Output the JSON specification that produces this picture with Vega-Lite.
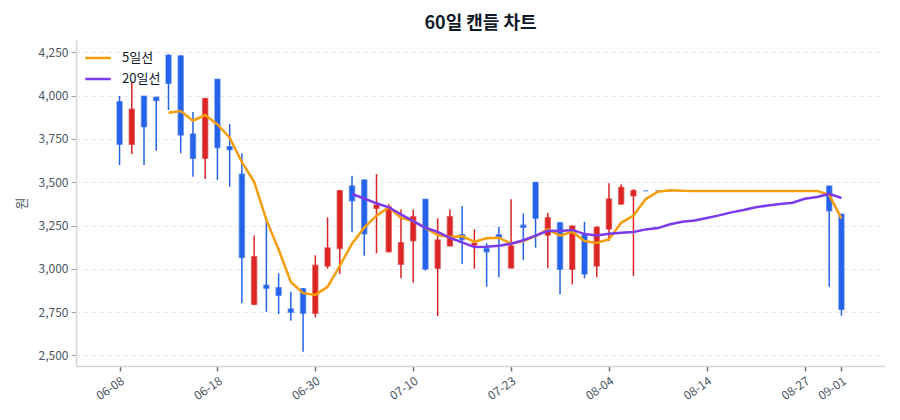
{
  "$schema": "https://vega.github.io/schema/vega-lite/v6.json",
  "width": 809,
  "height": 326,
  "autosize": {"type": "none"},
  "padding": {"left": 76, "top": 40, "right": 15, "bottom": 54},
  "background": "white",
  "title": {
    "text": "60일 캔들 차트",
    "fontSize": 18,
    "fontWeight": "bold",
    "color": "#111827",
    "offset": 7
  },
  "config": {
    "font": "Noto Sans CJK KR",
    "view": {"stroke": null},
    "axis": {
      "labelFont": "Noto Sans CJK KR",
      "titleFont": "Noto Sans CJK KR",
      "labelFontSize": 12,
      "labelColor": "#4b5563",
      "titleColor": "#4b5563",
      "titleFontSize": 13,
      "titleFontWeight": "normal",
      "domainColor": "#d1d5db",
      "domainWidth": 1.5,
      "tickColor": "#6b7280",
      "tickSize": 5
    }
  },
  "data": {
    "values": [
      {"i": 0, "date": "06-08", "open": 3965, "high": 3998, "low": 3599, "close": 3719},
      {"i": 1, "date": "06-09", "open": 3719, "high": 4080, "low": 3663, "close": 3921},
      {"i": 2, "date": "06-10", "open": 3996, "high": 3998, "low": 3600, "close": 3820},
      {"i": 3, "date": "06-11", "open": 3990, "high": 3992, "low": 3682, "close": 3972},
      {"i": 4, "date": "06-12", "open": 4233, "high": 4238, "low": 3917, "close": 4071},
      {"i": 5, "date": "06-15", "open": 4229, "high": 4235, "low": 3667, "close": 3773},
      {"i": 6, "date": "06-16", "open": 3778, "high": 3905, "low": 3532, "close": 3638},
      {"i": 7, "date": "06-17", "open": 3638, "high": 3986, "low": 3518, "close": 3984},
      {"i": 8, "date": "06-18", "open": 4094, "high": 4096, "low": 3513, "close": 3701},
      {"i": 9, "date": "06-19", "open": 3705, "high": 3836, "low": 3474, "close": 3688},
      {"i": 10, "date": "06-22", "open": 3546, "high": 3667, "low": 2801, "close": 3066},
      {"i": 11, "date": "06-23", "open": 2795, "high": 3193, "low": 2790, "close": 3070},
      {"i": 12, "date": "06-24", "open": 2905, "high": 3297, "low": 2752, "close": 2888},
      {"i": 13, "date": "06-25", "open": 2891, "high": 2974, "low": 2739, "close": 2847},
      {"i": 14, "date": "06-26", "open": 2768, "high": 2868, "low": 2700, "close": 2750},
      {"i": 15, "date": "06-29", "open": 2885, "high": 2890, "low": 2521, "close": 2743},
      {"i": 16, "date": "06-30", "open": 2743, "high": 3078, "low": 2720, "close": 3020},
      {"i": 17, "date": "07-01", "open": 3016, "high": 3297, "low": 3001, "close": 3120},
      {"i": 18, "date": "07-02", "open": 3118, "high": 3455, "low": 2970, "close": 3451},
      {"i": 19, "date": "07-03", "open": 3478, "high": 3538, "low": 3211, "close": 3393},
      {"i": 20, "date": "07-06", "open": 3513, "high": 3515, "low": 3076, "close": 3203},
      {"i": 21, "date": "07-07", "open": 3349, "high": 3547, "low": 3089, "close": 3368},
      {"i": 22, "date": "07-08", "open": 3099, "high": 3374, "low": 3095, "close": 3359},
      {"i": 23, "date": "07-09", "open": 3026, "high": 3343, "low": 2945, "close": 3151},
      {"i": 24, "date": "07-10", "open": 3162, "high": 3343, "low": 2920, "close": 3301},
      {"i": 25, "date": "07-13", "open": 3401, "high": 3403, "low": 2990, "close": 2999},
      {"i": 26, "date": "07-14", "open": 3003, "high": 3292, "low": 2727, "close": 3166},
      {"i": 27, "date": "07-15", "open": 3132, "high": 3343, "low": 3130, "close": 3301},
      {"i": 28, "date": "07-16", "open": 3197, "high": 3363, "low": 3028, "close": 3170},
      {"i": 29, "date": "07-17", "open": 3137, "high": 3228, "low": 3000, "close": 3147},
      {"i": 30, "date": "07-20", "open": 3116, "high": 3147, "low": 2897, "close": 3099},
      {"i": 31, "date": "07-21", "open": 3197, "high": 3243, "low": 2951, "close": 3182},
      {"i": 32, "date": "07-23", "open": 3005, "high": 3401, "low": 3003, "close": 3132},
      {"i": 33, "date": "07-24", "open": 3251, "high": 3320, "low": 3051, "close": 3240},
      {"i": 34, "date": "07-27", "open": 3499, "high": 3500, "low": 3122, "close": 3292},
      {"i": 35, "date": "07-28", "open": 3195, "high": 3324, "low": 3003, "close": 3295},
      {"i": 36, "date": "07-29", "open": 3266, "high": 3270, "low": 2853, "close": 2997},
      {"i": 37, "date": "07-30", "open": 2997, "high": 3250, "low": 2910, "close": 3247},
      {"i": 38, "date": "07-31", "open": 3195, "high": 3272, "low": 2945, "close": 2970},
      {"i": 39, "date": "08-03", "open": 3016, "high": 3245, "low": 2951, "close": 3240},
      {"i": 40, "date": "08-04", "open": 3230, "high": 3494, "low": 3160, "close": 3403},
      {"i": 41, "date": "08-05", "open": 3374, "high": 3488, "low": 3370, "close": 3470},
      {"i": 42, "date": "08-06", "open": 3422, "high": 3461, "low": 2958, "close": 3451},
      {"i": 43, "date": "08-07", "open": 3450, "high": 3450, "low": 3450, "close": 3450},
      {"i": 44, "date": "08-10", "open": 3450, "high": 3450, "low": 3450, "close": 3450},
      {"i": 45, "date": "08-11", "open": 3450, "high": 3450, "low": 3450, "close": 3450},
      {"i": 46, "date": "08-12", "open": 3450, "high": 3450, "low": 3450, "close": 3450},
      {"i": 47, "date": "08-13", "open": 3450, "high": 3450, "low": 3450, "close": 3450},
      {"i": 48, "date": "08-14", "open": 3450, "high": 3450, "low": 3450, "close": 3450},
      {"i": 49, "date": "08-17", "open": 3450, "high": 3450, "low": 3450, "close": 3450},
      {"i": 50, "date": "08-18", "open": 3450, "high": 3450, "low": 3450, "close": 3450},
      {"i": 51, "date": "08-19", "open": 3450, "high": 3450, "low": 3450, "close": 3450},
      {"i": 52, "date": "08-20", "open": 3450, "high": 3450, "low": 3450, "close": 3450},
      {"i": 53, "date": "08-21", "open": 3450, "high": 3450, "low": 3450, "close": 3450},
      {"i": 54, "date": "08-24", "open": 3450, "high": 3450, "low": 3450, "close": 3450},
      {"i": 55, "date": "08-25", "open": 3450, "high": 3450, "low": 3450, "close": 3450},
      {"i": 56, "date": "08-27", "open": 3450, "high": 3450, "low": 3450, "close": 3450},
      {"i": 57, "date": "08-28", "open": 3450, "high": 3450, "low": 3450, "close": 3450},
      {"i": 58, "date": "08-31", "open": 3478, "high": 3480, "low": 2897, "close": 3335},
      {"i": 59, "date": "09-01", "open": 3315, "high": 3318, "low": 2729, "close": 2766}
    ]
  },
  "encoding": {
    "x": {
      "field": "i",
      "type": "quantitative",
      "scale": {"domain": [-3.15, 62.15], "nice": false, "zero": false},
      "axis": {
        "values": [0, 8, 16, 24, 32, 40, 48, 56, 59],
        "labelExpr": "['06-08','06-18','06-30','07-10','07-23','08-04','08-14','08-27','09-01'][indexof([0,8,16,24,32,40,48,56,59], datum.value)]",
        "labelAngle": -35,
        "labelAlign": "right",
        "labelBaseline": "top",
        "labelPadding": 4,
        "labelFlush": false,
        "labelOverlap": false,
        "tickWidth": 1.5,
        "grid": false,
        "title": null
      }
    }
  },
  "layer": [
    {
      "mark": {"type": "rule", "strokeWidth": 1.5},
      "encoding": {
        "y": {
          "field": "low",
          "type": "quantitative",
          "title": "원",
          "scale": {"domain": [2439, 4321], "nice": false, "zero": false},
          "axis": {
            "values": [2500, 2750, 3000, 3250, 3500, 3750, 4000, 4250],
            "format": ",d",
            "grid": true,
            "gridColor": "#e5e7eb",
            "gridDash": [4, 4],
            "gridWidth": 1,
            "tickColor": "#9ca3af",
            "tickSize": 5,
            "labelPadding": 3,
            "titlePadding": 10
          }
        },
        "y2": {"field": "high"},
        "color": {
          "condition": {"test": "datum.close > datum.open", "value": "#dc2626"},
          "value": "#2563eb"
        }
      }
    },
    {
      "mark": {"type": "bar", "width": 5, "strokeWidth": 1.5, "strokeOpacity": 0.55},
      "encoding": {
        "y": {"field": "open", "type": "quantitative", "title": "원"},
        "y2": {"field": "close"},
        "color": {
          "condition": {"test": "datum.close > datum.open", "value": "#dc2626"},
          "value": "#2563eb"
        },
        "stroke": {
          "condition": {"test": "datum.close > datum.open", "value": "#dc2626"},
          "value": "#2563eb"
        }
      }
    },
    {
      "transform": [
        {"window": [{"op": "mean", "field": "close", "as": "5일선"}, {"op": "count", "as": "n5"}], "frame": [-4, 0], "sort": [{"field": "i"}]},
        {"window": [{"op": "mean", "field": "close", "as": "20일선"}, {"op": "count", "as": "n20"}], "frame": [-19, 0], "sort": [{"field": "i"}]},
        {"fold": ["5일선", "20일선"], "as": ["series", "ma"]},
        {"filter": "(datum.series == '5일선' && datum.n5 >= 5) || (datum.series == '20일선' && datum.n20 >= 20)"}
      ],
      "mark": {"type": "line", "strokeWidth": 2.5},
      "encoding": {
        "y": {"field": "ma", "type": "quantitative", "title": "원"},
        "color": {
          "field": "series",
          "type": "nominal",
          "scale": {"domain": ["5일선", "20일선"], "range": ["#f59e0b", "#7c3aed"]},
          "legend": {
            "orient": "none",
            "legendX": 8,
            "legendY": 4,
            "title": null,
            "symbolType": "stroke",
            "symbolSize": 650,
            "symbolStrokeWidth": 2.5,
            "labelFontSize": 13,
            "labelColor": "#111827",
            "labelOffset": 10,
            "rowPadding": -10
          }
        }
      }
    }
  ]
}
